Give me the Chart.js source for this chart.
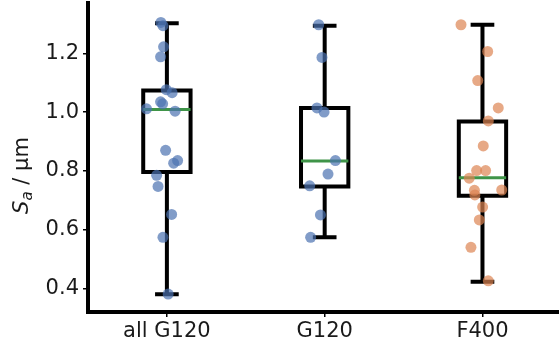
<!DOCTYPE html>
<html>
<head>
<meta charset="utf-8">
<script src="https://cdn.jsdelivr.net/npm/chart.js@4.4.0/dist/chart.umd.min.js"></script>
<style>
  html, body { margin: 0; padding: 0; background: #fff; }
  #wrap { width: 559px; height: 350px; position: relative; }
</style>
</head>
<body>
<div id="wrap"><canvas id="boxChart"></canvas></div>
<script>
// groups and their positions on the x axis
const categories = ['all G120', 'G120', 'F400'];
const positions = [1, 2, 3];
const yTicks = [0.4, 0.6, 0.8, 1.0, 1.2];

// box statistics
const whiskerLow = [0.380, 0.574, 0.423];
const q1 = [0.796, 0.747, 0.715];
const median = [1.009, 0.834, 0.777];
const q3 = [1.0735, 1.014, 0.968];
const whiskerHigh = [1.302, 1.294, 1.297];

// individual samples: jitter offset and Sa value
const allG120Jitter = [-0.038, -0.025, -0.021, -0.040, -0.004, 0.033, -0.040, -0.027, -0.129, 0.052, -0.008, 0.068, 0.043, -0.065, -0.056, 0.030, -0.025, 0.008];
const allG120Values = [1.305, 1.294, 1.222, 1.188, 1.076, 1.066, 1.035, 1.028, 1.011, 1.003, 0.870, 0.835, 0.826, 0.785, 0.747, 0.652, 0.574, 0.381];
const g120Jitter = [-0.038, -0.017, -0.049, -0.004, 0.068, 0.021, -0.095, -0.027, -0.089];
const g120Values = [1.297, 1.186, 1.014, 1.000, 0.835, 0.789, 0.749, 0.650, 0.574];
const f400Jitter = [-0.136, 0.033, -0.030, 0.100, 0.037, 0.005, -0.037, 0.020, -0.084, -0.051, -0.048, 0.122, 0.001, -0.020, -0.073, 0.037];
const f400Values = [1.297, 1.206, 1.107, 1.014, 0.970, 0.885, 0.801, 0.801, 0.775, 0.734, 0.718, 0.735, 0.677, 0.633, 0.540, 0.426];

const boxWidth = 0.3;
const capWidth = 0.15;

const blue = 'rgba(76, 114, 176, 0.7)';
const orange = 'rgba(221, 132, 82, 0.7)';
const green = '#3f9448';

function samples(i, jitter, values) {
    return values.map((v, k) => ({ x: positions[i] + jitter[k], y: v }));
}

const datasets = [
    { type: 'scatter', data: samples(0, allG120Jitter, allG120Values), backgroundColor: blue, pointRadius: 5.5, borderWidth: 0, order: 0 },
    { type: 'scatter', data: samples(1, g120Jitter, g120Values), backgroundColor: blue, pointRadius: 5.5, borderWidth: 0, order: 0 },
    { type: 'scatter', data: samples(2, f400Jitter, f400Values), backgroundColor: orange, pointRadius: 5.5, borderWidth: 0, order: 0 }
];

positions.forEach((p, i) => {
    const l = p - boxWidth / 2, r = p + boxWidth / 2;
    const cl = p - capWidth / 2, cr = p + capWidth / 2;
    const lineStyle = { type: 'line', showLine: true, pointRadius: 0, fill: false, spanGaps: false, tension: 0 };
    // box outline
    datasets.push(Object.assign({}, lineStyle, {
        data: [{ x: l, y: q1[i] }, { x: l, y: q3[i] }, { x: r, y: q3[i] }, { x: r, y: q1[i] }, { x: l, y: q1[i] }, { x: l, y: q3[i] }],
        borderColor: '#000', borderWidth: 4, borderJoinStyle: 'miter', order: 2
    }));
    // whiskers and caps
    datasets.push(Object.assign({}, lineStyle, {
        data: [
            { x: p, y: q3[i] }, { x: p, y: whiskerHigh[i] }, { x: p, y: null },
            { x: cl, y: whiskerHigh[i] }, { x: cr, y: whiskerHigh[i] }, { x: p, y: null },
            { x: p, y: q1[i] }, { x: p, y: whiskerLow[i] }, { x: p, y: null },
            { x: cl, y: whiskerLow[i] }, { x: cr, y: whiskerLow[i] }
        ],
        borderColor: '#000', borderWidth: 4, order: 2
    }));
    // median
    datasets.push(Object.assign({}, lineStyle, {
        data: [{ x: l, y: median[i] }, { x: r, y: median[i] }],
        borderColor: green, borderWidth: 3, order: 1
    }));
});

const yLabel = {
    id: 'yLabel',
    afterDraw(chart) {
        const ctx = chart.ctx;
        const cy = (chart.chartArea.top + chart.chartArea.bottom) / 2 + 18;
        ctx.save();
        ctx.translate(28, cy);
        ctx.rotate(-Math.PI / 2);
        ctx.fillStyle = '#1a1a1a';
        ctx.textBaseline = 'alphabetic';
        const main = 'italic 21px "DejaVu Sans"';
        const sub = 'italic 15px "DejaVu Sans"';
        const rest = '21px "DejaVu Sans"';
        ctx.font = main; const w1 = ctx.measureText('S').width;
        ctx.font = sub; const w2 = ctx.measureText('a').width;
        ctx.font = rest; const w3 = ctx.measureText(' / μm').width;
        let x = -(w1 + w2 + w3) / 2;
        ctx.font = main; ctx.fillText('S', x, 0); x += w1;
        ctx.font = sub; ctx.fillText('a', x, 4); x += w2;
        ctx.font = rest; ctx.fillText(' / μm', x, 0);
        ctx.restore();
    }
};

function noPadding(scale) {
    scale.paddingTop = 0;
    scale.paddingBottom = 0;
    scale.paddingLeft = 0;
    scale.paddingRight = 0;
}

new Chart(document.getElementById('boxChart'), {
    type: 'scatter',
    data: { datasets: datasets },
    options: {
        responsive: true,
        maintainAspectRatio: false,
        animation: false,
        layout: { autoPadding: false, padding: { top: 3, right: 0, bottom: 0, left: 0 } },
        plugins: { legend: { display: false }, tooltip: { enabled: false } },
        scales: {
            x: {
                type: 'linear',
                min: 0.5,
                max: 3.485,
                afterBuildTicks: (scale) => { scale.ticks = positions.map(v => ({ value: v })); },
                afterFit: (scale) => { scale.height = 38; noPadding(scale); },
                ticks: {
                    autoSkip: false,
                    maxRotation: 0,
                    color: '#1a1a1a',
                    font: { family: 'DejaVu Sans', size: 21 },
                    padding: 2,
                    callback: (v) => categories[positions.indexOf(v)]
                },
                grid: { drawOnChartArea: false, drawTicks: true, tickLength: 5, color: '#000', lineWidth: 1.5 },
                border: { display: true, color: '#000', width: 4 }
            },
            y: {
                type: 'linear',
                min: 0.32,
                max: 1.371,
                afterBuildTicks: (scale) => { scale.ticks = yTicks.map(v => ({ value: v })); },
                afterFit: (scale) => { scale.width = 88; noPadding(scale); },
                ticks: {
                    color: '#1a1a1a',
                    font: { family: 'DejaVu Sans', size: 21 },
                    padding: 4,
                    callback: (v) => v.toFixed(1)
                },
                grid: { drawOnChartArea: false, drawTicks: true, tickLength: 5, color: '#000', lineWidth: 1.5 },
                border: { display: true, color: '#000', width: 4 }
            }
        }
    },
    plugins: [yLabel]
});
</script>
</body>
</html>
